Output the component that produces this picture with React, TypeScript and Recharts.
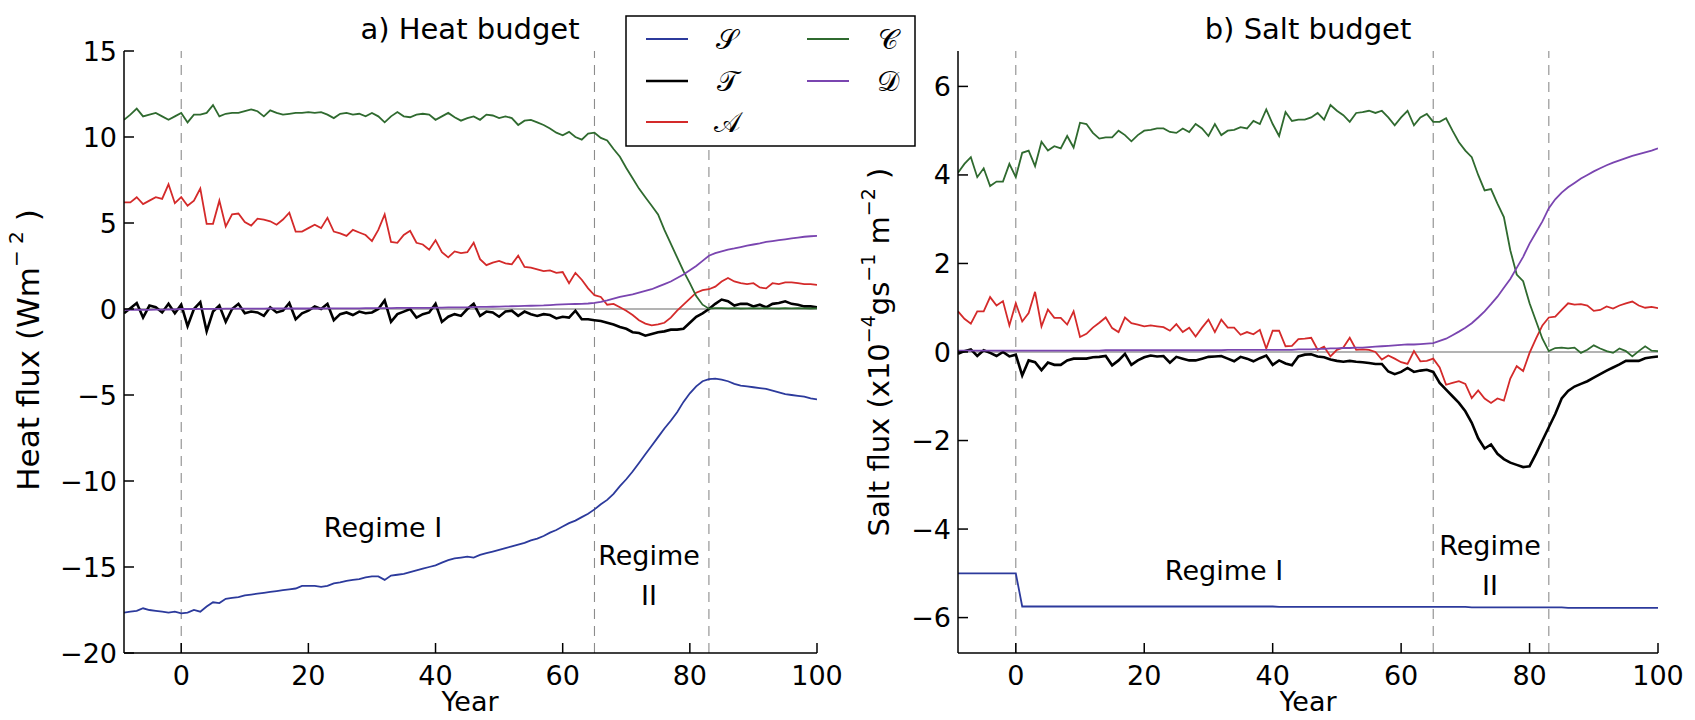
import React from "react";
import { LineChart, Line, XAxis, YAxis, ReferenceLine } from "recharts";

const FONT = "'DejaVu Sans', sans-serif";
const START_YEAR = -9;

// heat budget terms (W m-2), one value per year from -9 to 100
const heatS = [
  -17.65, -17.6, -17.55, -17.4, -17.5, -17.55, -17.6, -17.65, -17.6, -17.7,
  -17.65, -17.5, -17.6, -17.3, -17.05, -17.1, -16.85, -16.8, -16.75, -16.65,
  -16.6, -16.55, -16.5, -16.45, -16.4, -16.35, -16.3, -16.25, -16.1, -16.1,
  -16.1, -16.15, -16.1, -15.95, -15.9, -15.8, -15.75, -15.7, -15.6, -15.55,
  -15.55, -15.75, -15.5, -15.45, -15.4, -15.3, -15.2, -15.1, -15.0, -14.9,
  -14.75, -14.6, -14.5, -14.45, -14.4, -14.45, -14.3, -14.2, -14.1, -14.0,
  -13.9, -13.8, -13.7, -13.6, -13.45, -13.35, -13.2, -13.0, -12.85, -12.65,
  -12.45, -12.3, -12.1, -11.9, -11.65, -11.35, -11.1, -10.75, -10.3, -9.9,
  -9.45, -8.95, -8.45, -7.95, -7.45, -6.95, -6.5, -6.0, -5.4, -4.9,
  -4.5, -4.2, -4.08, -4.05, -4.1, -4.2, -4.35, -4.45, -4.5, -4.55,
  -4.6, -4.65, -4.75, -4.85, -4.95, -5.0, -5.05, -5.1, -5.2, -5.25,
];
const heatT = [
  -0.25, 0.05, 0.35, -0.5, 0.2, 0.1, -0.2, 0.3, -0.25, 0.25,
  -1.0, 0.0, 0.4, -1.3, -0.15, 0.2, -0.75, 0.0, 0.3, -0.25,
  -0.15, -0.2, -0.4, 0.1, -0.2, -0.1, 0.35, -0.6, -0.25, -0.1,
  0.15, 0.0, 0.3, -0.65, -0.3, -0.2, -0.35, -0.15, -0.25, -0.2,
  0.0, 0.5, -0.75, -0.3, -0.15, 0.0, -0.5, -0.3, -0.2, 0.3,
  -0.75, -0.45, -0.3, -0.4, 0.0, 0.3, -0.4, -0.15, -0.2, -0.45,
  -0.15, -0.1, -0.4, -0.15, -0.3, -0.4, -0.3, -0.35, -0.55, -0.45,
  -0.5, -0.1, -0.6, -0.6, -0.65, -0.7, -0.8, -0.9, -1.05, -1.15,
  -1.35, -1.4, -1.55, -1.45, -1.35, -1.3, -1.2, -1.2, -1.15, -0.8,
  -0.45, -0.25, 0.0, 0.3, 0.55, 0.45, 0.2, 0.3, 0.3, 0.15,
  0.25, 0.1, 0.3, 0.35, 0.45, 0.3, 0.25, 0.15, 0.15, 0.1,
];
const heatA = [
  6.2, 6.2, 6.5, 6.1, 6.3, 6.5, 6.4, 7.25, 6.15, 6.5,
  6.0, 6.3, 7.0, 4.95, 4.95, 6.3, 4.8, 5.5, 5.55, 5.05,
  4.85, 5.25, 5.2, 5.1, 4.9, 5.2, 5.6, 4.5, 4.5, 4.7,
  4.9, 4.7, 5.3, 4.5, 4.4, 4.25, 4.6, 4.45, 4.3, 3.95,
  4.6, 5.5, 3.9, 3.85, 4.3, 4.55, 3.85, 3.75, 3.45, 4.0,
  3.3, 3.0, 3.35, 3.25, 3.3, 3.85, 2.9, 2.55, 2.7, 2.8,
  2.65, 2.6, 3.1, 2.45, 2.4, 2.3, 2.2, 2.25, 2.1, 2.15,
  1.5, 2.1, 1.7, 1.2, 0.8, 0.7, 0.25, 0.3, 0.1, -0.1,
  -0.35, -0.65, -0.85, -0.95, -0.9, -0.8, -0.5, -0.1, 0.25, 0.6,
  0.95, 1.1, 1.15, 1.3, 1.6, 1.8, 1.6, 1.5, 1.45, 1.5,
  1.25, 1.2, 1.5, 1.45, 1.55, 1.55, 1.5, 1.45, 1.45, 1.4,
];
const heatC = [
  11.0, 11.3, 11.65, 11.2, 11.3, 11.4, 11.2, 11.0, 11.2, 11.4,
  10.85, 11.3, 11.3, 11.4, 11.85, 11.2, 11.35, 11.4, 11.4, 11.5,
  11.6, 11.5, 11.2, 11.55, 11.4, 11.3, 11.35, 11.4, 11.4, 11.45,
  11.4, 11.45, 11.3, 11.1, 11.35, 11.4, 11.3, 11.35, 11.2, 11.4,
  11.2, 10.85, 11.2, 11.45, 11.2, 11.15, 11.3, 11.35, 11.3, 11.0,
  11.2, 11.4, 11.15, 10.95, 11.1, 11.2, 11.0, 11.3, 11.25, 11.1,
  11.2, 11.1, 10.7, 10.95, 11.0, 10.85, 10.7, 10.5, 10.25, 10.1,
  10.3, 10.0, 9.85, 10.2, 10.25, 9.95, 9.8, 9.3, 8.85, 8.2,
  7.6, 7.0, 6.5, 6.0, 5.5, 4.6, 3.8, 3.0, 2.2, 1.5,
  0.75, 0.25, 0.02, 0.05, 0.05, 0.04, 0.05, 0.03, 0.04, 0.05,
  0.04, 0.05, 0.04, 0.03, 0.05, 0.04, 0.05, 0.04, 0.03, 0.04,
];
const heatD = [
  -0.05, -0.05, -0.04, -0.05, -0.05, -0.04, -0.04, -0.03, -0.02, 0.0,
  0.0, 0.0, 0.01, 0.01, 0.01, 0.01, 0.02, 0.02, 0.02, 0.02,
  0.02, 0.02, 0.02, 0.03, 0.03, 0.03, 0.03, 0.03, 0.03, 0.03,
  0.03, 0.03, 0.04, 0.04, 0.04, 0.04, 0.04, 0.04, 0.05, 0.05,
  0.05, 0.05, 0.05, 0.06, 0.06, 0.06, 0.06, 0.07, 0.07, 0.08,
  0.08, 0.09, 0.09, 0.1, 0.1, 0.11, 0.12, 0.12, 0.13, 0.14,
  0.15, 0.16, 0.17, 0.18, 0.19, 0.2, 0.21, 0.23, 0.25, 0.27,
  0.28, 0.29, 0.3, 0.32, 0.35, 0.42, 0.5, 0.6, 0.7, 0.78,
  0.85, 0.95, 1.05, 1.15, 1.3, 1.45, 1.6, 1.8, 2.0, 2.25,
  2.5, 2.8, 3.1, 3.25, 3.35, 3.45, 3.52, 3.6, 3.68, 3.75,
  3.82, 3.9, 3.95, 4.0, 4.05, 4.1, 4.15, 4.2, 4.23, 4.25,
];

// salt budget terms (x10^-4 g s-1 m-2), same years
const saltS = [
  -5.0, -5.0, -5.0, -5.0, -5.0, -5.0, -5.0, -5.0, -5.0, -5.0,
  -5.75, -5.75, -5.75, -5.75, -5.75, -5.75, -5.75, -5.75, -5.75, -5.75,
  -5.75, -5.75, -5.75, -5.75, -5.75, -5.75, -5.75, -5.75, -5.75, -5.75,
  -5.75, -5.75, -5.75, -5.75, -5.75, -5.75, -5.75, -5.75, -5.75, -5.75,
  -5.75, -5.75, -5.75, -5.75, -5.75, -5.75, -5.75, -5.75, -5.75, -5.75,
  -5.76, -5.76, -5.76, -5.76, -5.76, -5.76, -5.76, -5.76, -5.76, -5.76,
  -5.76, -5.76, -5.76, -5.76, -5.76, -5.76, -5.76, -5.76, -5.76, -5.76,
  -5.76, -5.76, -5.76, -5.76, -5.76, -5.76, -5.76, -5.76, -5.76, -5.76,
  -5.77, -5.77, -5.77, -5.77, -5.77, -5.77, -5.77, -5.77, -5.77, -5.77,
  -5.77, -5.77, -5.77, -5.77, -5.77, -5.78, -5.78, -5.78, -5.78, -5.78,
  -5.78, -5.78, -5.78, -5.78, -5.78, -5.78, -5.78, -5.78, -5.78, -5.78,
];
const saltT = [
  -0.04, 0.02, 0.06, -0.09, 0.04, -0.02, -0.09, 0.0, -0.1, -0.06,
  -0.53, -0.19, -0.23, -0.41, -0.24, -0.29, -0.29, -0.19, -0.15, -0.15,
  -0.15, -0.12, -0.11, -0.09, -0.3, -0.19, -0.04, -0.29, -0.19, -0.12,
  -0.08, -0.1, -0.09, -0.24, -0.11, -0.15, -0.19, -0.19, -0.15, -0.11,
  -0.1, -0.09, -0.15, -0.21, -0.11, -0.15, -0.21, -0.14, -0.08, -0.29,
  -0.19, -0.26, -0.3, -0.1, -0.06, -0.05, -0.1, -0.12, -0.17, -0.2,
  -0.22, -0.2, -0.22, -0.23, -0.25, -0.27, -0.27, -0.44, -0.5, -0.45,
  -0.36, -0.45, -0.42, -0.4, -0.45, -0.7, -0.85, -1.0, -1.15, -1.34,
  -1.6, -1.95, -2.18, -2.09, -2.3, -2.42, -2.5, -2.55, -2.6, -2.58,
  -2.3, -2.0, -1.7, -1.4, -1.05, -0.88, -0.78, -0.72, -0.66, -0.58,
  -0.5, -0.42, -0.35, -0.28, -0.2, -0.2, -0.2, -0.14, -0.12, -0.1,
];
const saltA = [
  0.92, 0.75, 0.64, 0.92, 0.92, 1.24, 1.05, 1.15, 0.6, 1.1,
  0.69, 0.88, 1.36, 0.58, 0.96, 0.77, 0.77, 0.62, 0.92, 0.34,
  0.41, 0.55, 0.66, 0.78, 0.54, 0.45, 0.78, 0.65, 0.62, 0.58,
  0.6, 0.58, 0.56, 0.48, 0.63, 0.45, 0.55, 0.35, 0.55, 0.73,
  0.45, 0.73, 0.55, 0.55, 0.39, 0.45, 0.4, 0.5, 0.08, 0.48,
  0.48, 0.13, 0.14, 0.29, 0.3, 0.32, 0.05, 0.12, -0.1, 0.05,
  0.1, 0.32, 0.05, 0.06, 0.05, 0.0, -0.17, -0.08, -0.15, -0.23,
  -0.27, 0.02, -0.21, -0.2, -0.15, -0.35, -0.74, -0.7, -0.66, -0.72,
  -1.04, -0.87, -1.05, -1.15, -1.05, -1.1, -0.6, -0.32, -0.43, -0.02,
  0.3, 0.6, 0.78, 0.8, 0.95, 1.1, 1.07, 1.08, 1.05, 0.93,
  0.95, 1.03, 0.98, 1.05, 1.1, 1.14, 1.05, 1.0, 1.02, 0.99,
];
const saltC = [
  4.05, 4.25, 4.4, 3.95, 4.15, 3.75, 3.85, 3.85, 4.25, 3.95,
  4.5, 4.55, 4.2, 4.75, 4.55, 4.65, 4.6, 4.88, 4.62, 5.18,
  5.15, 4.95, 4.82, 4.85, 4.85, 5.0, 4.9, 4.76, 4.9, 5.0,
  5.02, 5.05, 5.05, 4.97, 4.95, 5.05, 4.97, 5.15, 5.05, 4.88,
  5.15, 4.9, 5.0, 5.02, 5.08, 5.05, 5.22, 5.15, 5.48, 5.15,
  4.88, 5.42, 5.22, 5.25, 5.25, 5.3, 5.4, 5.25, 5.58, 5.45,
  5.35, 5.2, 5.4, 5.42, 5.45, 5.4, 5.45, 5.3, 5.12, 5.3,
  5.45, 5.12, 5.3, 5.38, 5.2, 5.2, 5.28, 5.0, 4.74, 4.55,
  4.4, 4.0, 3.65, 3.68, 3.35, 3.05, 2.3, 1.75, 1.6, 1.1,
  0.7, 0.3, 0.02, 0.09, 0.1, 0.08, 0.1, -0.02, 0.05, 0.15,
  0.08, 0.02, -0.02, 0.08, 0.02, -0.1, 0.02, 0.13, 0.03, 0.02,
];
const saltD = [
  0.03, 0.03, 0.03, 0.03, 0.03, 0.03, 0.03, 0.03, 0.03, 0.03,
  0.03, 0.03, 0.03, 0.03, 0.03, 0.03, 0.03, 0.03, 0.03, 0.03,
  0.03, 0.03, 0.03, 0.04, 0.04, 0.04, 0.04, 0.04, 0.04, 0.04,
  0.04, 0.04, 0.04, 0.04, 0.04, 0.04, 0.04, 0.04, 0.04, 0.04,
  0.04, 0.04, 0.05, 0.05, 0.05, 0.05, 0.05, 0.05, 0.05, 0.05,
  0.05, 0.05, 0.05, 0.06, 0.06, 0.06, 0.07, 0.07, 0.08, 0.08,
  0.09, 0.09, 0.1, 0.1, 0.11, 0.12, 0.13, 0.14, 0.15, 0.16,
  0.17, 0.17, 0.18, 0.19, 0.2, 0.25, 0.3, 0.38, 0.46, 0.55,
  0.65, 0.78, 0.92, 1.08, 1.25, 1.45, 1.65, 1.9, 2.15, 2.45,
  2.7, 2.95, 3.25, 3.45, 3.6, 3.72, 3.82, 3.92, 4.0, 4.08,
  4.15, 4.22, 4.28, 4.33, 4.38, 4.43, 4.47, 4.51, 4.55, 4.6,
];

const years = heatS.map((_, i) => START_YEAR + i);
const xDomain = [-9, 100];
const xTicks = [0, 20, 40, 60, 80, 100];
const heatTicks = [-20, -15, -10, -5, 0, 5, 10, 15];
const saltTicks = [-6, -4, -2, 0, 2, 4, 6];
const regimeBounds = [0, 65, 83];

const series = [
  { key: "S", label: "\u{1D4AE}", color: "#2c3a9c", width: 1.8 },
  { key: "T", label: "\u{1D4AF}", color: "#000000", width: 2.6 },
  { key: "A", label: "\u{1D49C}", color: "#d42a2a", width: 1.8 },
  { key: "C", label: "\u{1D49E}", color: "#2f6a2f", width: 1.8 },
  { key: "D", label: "\u{1D49F}", color: "#7a45b0", width: 1.8 },
];

const heatData = years.map((year, i) => ({
  year, S: heatS[i], T: heatT[i], A: heatA[i], C: heatC[i], D: heatD[i],
}));
const saltData = years.map((year, i) => ({
  year, S: saltS[i], T: saltT[i], A: saltA[i], C: saltC[i], D: saltD[i],
}));

const fmt = (v: number) => (v < 0 ? `\u2212${Math.abs(v)}` : String(v));
const TICK = 10;
const AXIS = { stroke: "#000", strokeWidth: 1.5 };

const BottomTick = ({ x, y, payload }: any) => (
  <g>
    <line x1={x} x2={x} y1={y} y2={y - TICK} {...AXIS} />
    <text x={x} y={y + 32} textAnchor="middle" fontSize={27} fontFamily={FONT} fill="#000">
      {fmt(payload.value)}
    </text>
  </g>
);
const TopTick = ({ x, y }: any) => <line x1={x} x2={x} y1={y} y2={y + TICK} {...AXIS} />;
const LeftTick = ({ x, y, payload }: any) => (
  <g>
    <line x1={x} x2={x + TICK} y1={y} y2={y} {...AXIS} />
    <text x={x - 7} y={y} textAnchor="end" dominantBaseline="central" fontSize={27} fontFamily={FONT} fill="#000">
      {fmt(payload.value)}
    </text>
  </g>
);
const RightTick = ({ x, y }: any) => <line x1={x} x2={x - TICK} y1={y} y2={y} {...AXIS} />;

interface PanelProps {
  data: any[];
  yDomain: number[];
  yTicks: number[];
  left: number;
  width: number;
  yAxisWidth: number;
  marginRight: number;
}

const Panel = ({ data, yDomain, yTicks, left, width, yAxisWidth, marginRight }: PanelProps) => (
  <div style={{ position: "absolute", left, top: 0 }}>
    <LineChart width={width} height={720} data={data} margin={{ top: 51, right: marginRight, bottom: 0, left: 0 }}>
      <XAxis xAxisId="b" dataKey="year" type="number" domain={xDomain} ticks={xTicks} allowDataOverflow
        height={67} tickSize={0} tickMargin={0} tickLine={false} interval={0} axisLine={AXIS} tick={<BottomTick />} />
      <XAxis xAxisId="t" dataKey="year" orientation="top" type="number" domain={xDomain} ticks={xTicks} allowDataOverflow
        height={0} tickSize={0} tickMargin={0} tickLine={false} interval={0} axisLine={AXIS} tick={<TopTick />} />
      <YAxis yAxisId="l" type="number" domain={yDomain} ticks={yTicks} allowDataOverflow
        width={yAxisWidth} tickSize={0} tickMargin={0} tickLine={false} interval={0} axisLine={AXIS} tick={<LeftTick />} />
      <YAxis yAxisId="r" orientation="right" type="number" domain={yDomain} ticks={yTicks} allowDataOverflow
        width={0} tickSize={0} tickMargin={0} tickLine={false} interval={0} axisLine={AXIS} tick={<RightTick />} />
      <ReferenceLine xAxisId="b" yAxisId="l" y={0} stroke="#9a9a9a" strokeWidth={1.5} />
      {regimeBounds.map((b) => (
        <ReferenceLine key={b} xAxisId="b" yAxisId="l" x={b} stroke="#8c8c8c" strokeWidth={1.1} strokeDasharray="10 7" />
      ))}
      {series.map((s) => (
        <Line key={s.key} xAxisId="b" yAxisId="l" type="linear" dataKey={s.key} stroke={s.color}
          strokeWidth={s.width} dot={false} activeDot={false} isAnimationActive={false} />
      ))}
    </LineChart>
  </div>
);

const txt = { fontFamily: FONT, fill: "#000" };

const Legend = () => {
  const col1 = series.slice(0, 3);
  const col2 = series.slice(3);
  const rows = [39, 81, 122];
  return (
    <g>
      <rect x={626} y={16} width={289} height={130} fill="#fff" stroke="#000" strokeWidth={1.5} />
      {col1.map((s, i) => (
        <g key={s.key}>
          <line x1={646} x2={688} y1={rows[i]} y2={rows[i]} stroke={s.color} strokeWidth={s.width} />
          <text x={727} y={rows[i]} textAnchor="middle" dominantBaseline="central" fontSize={28} {...txt}
            fontFamily="'DejaVu Serif', serif">{s.label}</text>
        </g>
      ))}
      {col2.map((s, i) => (
        <g key={s.key}>
          <line x1={807} x2={849} y1={rows[i]} y2={rows[i]} stroke={s.color} strokeWidth={s.width} />
          <text x={888} y={rows[i]} textAnchor="middle" dominantBaseline="central" fontSize={28} {...txt}
            fontFamily="'DejaVu Serif', serif">{s.label}</text>
        </g>
      ))}
    </g>
  );
};

const Overlay = () => (
  <svg width={1695} height={720} style={{ position: "absolute", left: 0, top: 0, pointerEvents: "none" }}>
    <text x={470} y={39} textAnchor="middle" fontSize={29} {...txt}>a) Heat budget</text>
    <text x={1308} y={39} textAnchor="middle" fontSize={29} {...txt}>b) Salt budget</text>
    <text x={470} y={711} textAnchor="middle" fontSize={27} {...txt}>Year</text>
    <text x={1308} y={711} textAnchor="middle" fontSize={27} {...txt}>Year</text>
    <text transform="translate(28,350) rotate(-90)" textAnchor="middle" dominantBaseline="central" fontSize={31} {...txt}>
      Heat flux (Wm<tspan dy={-12} fontSize={20}>{"\u2212 2"}</tspan><tspan dy={12}> )</tspan>
    </text>
    <text transform="translate(879,352) rotate(-90)" textAnchor="middle" dominantBaseline="central" fontSize={29} {...txt}>
      Salt flux (x10<tspan dy={-11} fontSize={19}>{"\u22124"}</tspan>
      <tspan dy={11}>gs</tspan><tspan dy={-11} fontSize={19}>{"\u22121"}</tspan>
      <tspan dy={11}> m</tspan><tspan dy={-11} fontSize={19}>{"\u22122"}</tspan><tspan dy={11}> )</tspan>
    </text>
    <text x={383} y={537} textAnchor="middle" fontSize={27} {...txt}>Regime I</text>
    <text x={649} y={565} textAnchor="middle" fontSize={27} {...txt}>Regime</text>
    <text x={649} y={605} textAnchor="middle" fontSize={27} {...txt}>II</text>
    <text x={1224} y={580} textAnchor="middle" fontSize={27} {...txt}>Regime I</text>
    <text x={1490} y={555} textAnchor="middle" fontSize={27} {...txt}>Regime</text>
    <text x={1490} y={595} textAnchor="middle" fontSize={27} {...txt}>II</text>
    <Legend />
  </svg>
);

export default function App() {
  return (
    <div style={{ position: "absolute", left: 0, top: 0, width: 1695, height: 720, background: "#fff" }}>
      <Panel data={heatData} yDomain={[-20, 15]} yTicks={heatTicks} left={0} width={850} yAxisWidth={124} marginRight={33} />
      <Panel data={saltData} yDomain={[-6.8, 6.8]} yTicks={saltTicks} left={850} width={845} yAxisWidth={108} marginRight={37} />
      <Overlay />
    </div>
  );
}
